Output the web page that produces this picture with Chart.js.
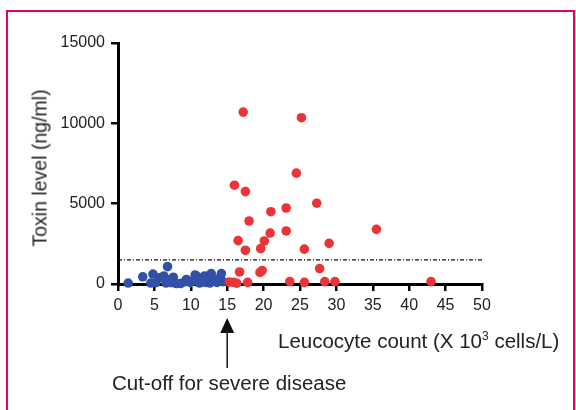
<!DOCTYPE html>
<html>
<head>
<meta charset="utf-8">
<script src="https://cdn.jsdelivr.net/npm/chart.js@4.4.0/dist/chart.umd.min.js"></script>
<style>
  body { margin: 0; background: #fff; font-family: "Liberation Sans", Arial, sans-serif; }
  #wrap { position: relative; width: 576px; height: 410px; overflow: hidden; }
  #frame { position: absolute; left: 6px; top: 10px; width: 569px; height: 420px; border: 2px solid #e0006e; box-sizing: border-box; }
  canvas { position: absolute; left: 0; top: 0; }
  .lbl { position: absolute; color: #222; font-size: 20.5px; white-space: nowrap; }
  #ytitle { left: 40px; top: 168px; font-size: 19.5px; transform: translate(-50%, -50%) rotate(-90deg); }
  #xtitle { left: 278px; top: 329px; }
  #xtitle sup { font-size: 12px; vertical-align: 8px; }
  #note { left: 112px; top: 371px; }
</style>
</head>
<body>
<div id="wrap">
  <div id="frame"></div>
  <canvas id="myChart" width="576" height="410"></canvas>
  <div class="lbl" id="ytitle">Toxin level (ng/ml)</div>
  <div class="lbl" id="xtitle">Leucocyte count (X 10<sup>3</sup> cells/L)</div>
  <div class="lbl" id="note">Cut-off for severe disease</div>
</div>
<script>
// severe cases (leucocytes >= 15)
var severeX = [17.2, 25.2, 24.5, 16.0, 17.5, 27.3, 23.1, 21.0, 18.0, 35.5, 23.1, 20.9, 16.5, 20.1, 29.0,
               17.5, 19.6, 25.6, 27.7, 16.7, 19.5, 19.8, 15.3, 15.9, 17.8, 23.6, 25.6, 28.4, 29.8, 43.0, 16.3];
var severeY = [10700, 10350, 6900, 6150, 5750, 5030, 4730, 4500, 3920, 3400, 3300, 3170, 2700, 2680, 2530,
               2100, 2200, 2170, 960, 750, 720, 840, 120, 100, 100, 150, 100, 150, 150, 150, 50];

// non-severe cases
var mildX = [1.4, 3.4, 4.5, 4.8, 5.6, 6.3, 6.6, 6.8, 7.0, 7.6, 8.0, 8.6, 9.2, 9.4, 9.9, 10.6, 10.9, 11.2,
             11.6, 12.0, 12.3, 12.6, 12.8, 13.2, 13.6, 14.2, 14.4, 5.2, 7.3, 10.3, 11.9, 13.9];
var mildY = [60, 450, 60, 620, 380, 500, 60, 1080, 250, 420, 30, 30, 150, 280, 100, 560, 450, 60,
             250, 100, 350, 60, 650, 300, 100, 650, 150, 80, 80, 200, 500, 350];

var xTicks = [0, 5, 10, 15, 20, 25, 30, 35, 40, 45, 50];
var yTicks = [0, 5000, 10000, 15000];
var toxinCutoff = 1500;
var leucoCutoff = 15;

function toPoints(xs, ys) {
    return xs.map(function (x, i) { return { x: x, y: ys[i] }; });
}

// arrow pointing at the leucocyte cut-off
var arrowPlugin = {
    id: 'arrow',
    afterDraw: function (chart) {
        var ctx = chart.ctx;
        var px = chart.scales.x.getPixelForValue(leucoCutoff);
        ctx.save();
        ctx.strokeStyle = '#111';
        ctx.fillStyle = '#111';
        ctx.lineWidth = 1.5;
        ctx.beginPath();
        ctx.moveTo(px, 330);
        ctx.lineTo(px, 368);
        ctx.stroke();
        ctx.beginPath();
        ctx.moveTo(px, 318);
        ctx.lineTo(px - 7, 333);
        ctx.lineTo(px + 7, 333);
        ctx.closePath();
        ctx.fill();
        ctx.restore();
    }
};

var ctx = document.getElementById('myChart').getContext('2d');
var myChart = new Chart(ctx, {
    type: 'scatter',
    data: {
        datasets: [
            {
                type: 'line',
                label: 'cut-off',
                data: [{ x: xTicks[0], y: toxinCutoff }, { x: xTicks[xTicks.length - 1], y: toxinCutoff }],
                borderColor: '#111',
                borderWidth: 1.2,
                borderDash: [4, 2, 1, 2],
                pointRadius: 0,
                fill: false,
                order: 3
            },
            {
                label: 'Non-severe',
                data: toPoints(mildX, mildY),
                backgroundColor: '#3350a8',
                borderWidth: 0,
                pointRadius: 4.8,
                clip: false,
                order: 2
            },
            {
                label: 'Severe',
                data: toPoints(severeX, severeY),
                backgroundColor: '#eb3438',
                borderWidth: 0,
                pointRadius: 4.8,
                clip: false,
                order: 1
            }
        ]
    },
    options: {
        responsive: false,
        animation: false,
        layout: { padding: { top: 43, right: 94, left: 0, bottom: 0 } },
        plugins: { legend: { display: false }, tooltip: { enabled: false } },
        scales: {
            x: {
                type: 'linear',
                min: 0,
                max: 50,
                afterFit: function (s) { s.height = 126; },
                afterBuildTicks: function (s) { s.ticks = xTicks.map(function (v) { return { value: v }; }); },
                grid: { drawOnChartArea: false, drawTicks: true, tickLength: 7, color: '#000', lineWidth: 2.5 },
                border: { display: true, color: '#000', width: 3 },
                ticks: { color: '#222', font: { family: 'Liberation Sans', size: 16 }, padding: 5, maxRotation: 0,
                         callback: function (v) { return String(v); } }
            },
            y: {
                type: 'linear',
                min: 0,
                max: 15000,
                afterFit: function (s) { s.width = 118; },
                afterBuildTicks: function (s) { s.ticks = yTicks.map(function (v) { return { value: v }; }); },
                grid: { drawOnChartArea: false, drawTicks: true, tickLength: 7, color: '#000', lineWidth: 2.5 },
                border: { display: true, color: '#000', width: 3 },
                ticks: { color: '#222', font: { family: 'Liberation Sans', size: 16 }, padding: 6,
                         callback: function (v) { return String(v); } }
            }
        }
    },
    plugins: [arrowPlugin]
});
</script>
</body>
</html>
